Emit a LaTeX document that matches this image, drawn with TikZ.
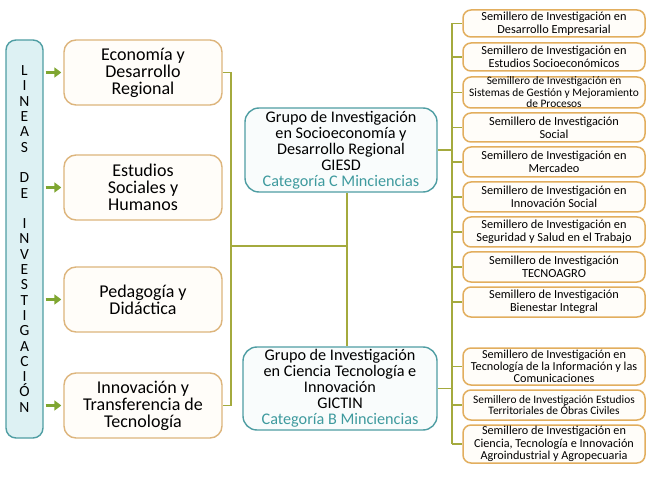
\documentclass[tikz,border=0pt]{standalone}
\usepackage{fontspec}
\setmainfont{Carlito}
\usetikzlibrary{arrows.meta}
\definecolor{lboxdraw}{HTML}{DDB57C}
\definecolor{sboxdraw}{HTML}{E2AE5E}
\definecolor{boxfill}{HTML}{FFFDF9}
\definecolor{tealdraw}{HTML}{4F9EA3}
\definecolor{tealfill}{HTML}{DDF1F3}
\definecolor{gfill}{HTML}{F9FCFC}
\definecolor{cattext}{HTML}{3E9A9E}
\definecolor{connc}{HTML}{A4AA3E}
\definecolor{arrowc}{HTML}{7FA631}
\begin{document}
\begin{tikzpicture}[x=1pt,y=-1pt,
  lbox/.style={draw=lboxdraw, fill=boxfill, line width=1.4pt, rounded corners=12pt,
    minimum width=158pt, minimum height=65pt, inner sep=0pt, align=center,
    font=\fontsize{18}{17}\selectfont},
  sbox/.style={draw=sboxdraw, fill=boxfill, line width=1.5pt, rounded corners=8pt,
    minimum width=182pt, inner sep=0pt, align=center,
    font=\fontsize{12.3}{13}\selectfont},
  sboxs/.style={sbox, font=\fontsize{11.4}{11.5}\selectfont},
  sboxm/.style={sbox, font=\fontsize{12.2}{12.3}\selectfont},
  gbox/.style={draw=tealdraw, fill=gfill, line width=1.4pt, rounded corners=14pt,
    minimum width=192pt, minimum height=84pt, inner sep=0pt, align=center,
    font=\fontsize{16.2}{16}\selectfont},
  linbox/.style={draw=tealdraw, fill=tealfill, line width=1.4pt, rounded corners=10pt,
    minimum width=37pt, minimum height=398pt, inner sep=0pt, align=center,
    font=\fontsize{15.5}{15.3}\selectfont},
  conn/.style={draw=connc, line width=1.5pt},
  garrow/.style={draw=arrowc, line width=3.8pt, -{Triangle[length=7pt,width=10pt]},
    shorten <=2pt, shorten >=2pt},
  cat/.style={color=cattext}
]
\fill[white] (0,0) rectangle (650,478);
\useasboundingbox (0,0) rectangle (650,478);

% Lineas box
\node[linbox] (lin) at (24.5,239) {L\\I\\N\\E\\A\\S\\~\\D\\E\\~\\I\\N\\V\\E\\S\\T\\I\\G\\A\\C\\I\\Ó\\N};

% Left boxes
\node[lbox] (eco) at (143,72.5) {Economía y\\Desarrollo\\Regional};
\node[lbox] (est) at (143,187.5) {Estudios\\Sociales y\\Humanos};
\node[lbox] (ped) at (143,299.5) {Pedagogía y\\Didáctica};
\node[lbox] (inn) at (143,405.5) {Innovación y\\Transferencia de\\Tecnología};

% Group boxes
\node[gbox] (giesd) at (341,150) {Grupo de Investigación\\en Socioeconomía y\\Desarrollo Regional\\GIESD\\{\color{cattext}Categoría C Minciencias}};
\node[gbox, minimum width=194pt, minimum height=83pt] (gictin) at (340,388.5) {Grupo de Investigación\\en Ciencia Tecnología e\\Innovación\\GICTIN\\{\color{cattext}Categoría B Minciencias}};

% Semillero boxes
\node[sbox, minimum height=27pt] (s1) at (554,23.5) {Semillero de Investigación en\\Desarrollo Empresarial};
\node[sbox, minimum height=28pt] (s2) at (554,57) {Semillero de Investigación en\\Estudios Socioeconómicos};
\node[sboxs, minimum height=31pt] (s3) at (554,92.5) {Semillero de Investigación en\\Sistemas de Gestión y Mejoramiento\\de Procesos};
\node[sbox, minimum height=29pt] (s4) at (554,127.5) {Semillero de Investigación\\Social};
\node[sbox, minimum height=30pt] (s5) at (554,162) {Semillero de Investigación en\\Mercadeo};
\node[sbox, minimum height=30pt] (s6) at (554,197) {Semillero de Investigación en\\Innovación Social};
\node[sbox, minimum height=30pt] (s7) at (554,232) {Semillero de Investigación en\\Seguridad y Salud en el Trabajo};
\node[sbox, minimum height=30pt] (s8) at (554,267) {Semillero de Investigación\\TECNOAGRO};
\node[sbox, minimum height=30pt] (s9) at (554,302) {Semillero de Investigación\\Bienestar Integral};
\node[sboxm, minimum height=37pt] (s10) at (554,366.5) {Semillero de Investigación en\\Tecnología de la Información y las\\Comunicaciones};
\node[sboxs, minimum height=30pt] (s11) at (554,405) {Semillero de Investigación Estudios\\Territoriales de Óbras Civiles};
\node[sboxm, minimum height=38pt] (s12) at (554,444) {Semillero de Investigación en\\Ciencia, Tecnología e Innovación\\Agroindustrial y Agropecuaria};

% Arrows
\foreach \b in {eco,est,ped,inn}
  \draw[garrow] (lin.east |- \b.west) -- (\b.west);

% Left spine
\coordinate (ls) at (231,246);
\coordinate (ms) at (347,246);
\draw[conn] (eco.east) -- (eco.east -| ls) -- (inn.east -| ls) -- (inn.east);
\draw[conn] (ls) -- (ms);
\draw[conn] (giesd.south -| ms) -- (gictin.north -| ms);

% Right spine
\coordinate (rs) at (452,0);
\draw[conn] (s1.west -| rs) -- (s12.west -| rs);
\foreach \s in {s1,s2,s3,s4,s5,s6,s7,s8,s9,s10,s11,s12}
  \draw[conn] (\s.west -| rs) -- (\s.west);
\draw[conn] (giesd.east) -- (giesd.east -| rs);
\draw[conn] (gictin.east) -- (gictin.east -| rs);
\end{tikzpicture}
\end{document}
